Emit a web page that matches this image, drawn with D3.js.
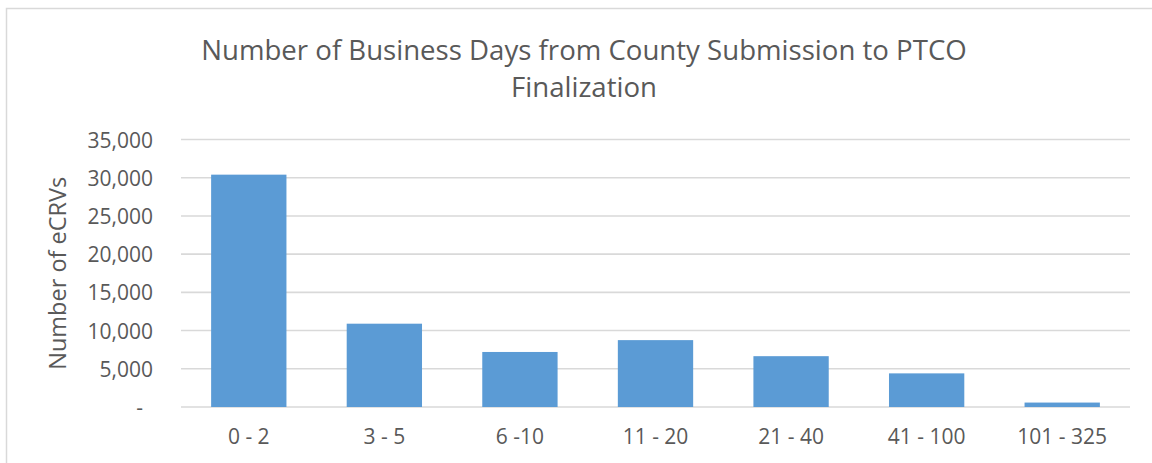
<!DOCTYPE html>
<html>
<head>
<meta charset="utf-8">
<script src="https://cdn.jsdelivr.net/npm/d3@7"></script>
<style>
  body { margin: 0; background: #fff; }
  text { font-family: "Open Sans", sans-serif; fill: #595959; }
</style>
</head>
<body>
<div id="vis"></div>
<script>
// chart data
var categories = ["0 - 2", "3 - 5", "6 -10", "11 - 20", "21 - 40", "41 - 100", "101 - 325"];
var counts = [30400, 10900, 7200, 8750, 6650, 4400, 580];
var yTicks = [0, 5000, 10000, 15000, 20000, 25000, 30000, 35000];
var titleLines = ["Number of Business Days from County Submission to PTCO", "Finalization"];
var yTitle = "Number of eCRVs";

var W = 1152, H = 463;
var margin = {top: 139.5, right: 22, bottom: 56, left: 181},
	width = W - margin.left - margin.right,
	height = H - margin.top - margin.bottom;

var x = d3.scaleBand()
			.domain(categories)
			.range([0, width])
			.paddingInner(0.8 / 1.8)
			.paddingOuter(0.4 / 1.8);
var y = d3.scaleLinear()
			.domain([0, 35000])
			.range([height, 0]);

var svg = d3.select("#vis").append("svg")
	.attr("width", W)
	.attr("height", H);

// chart frame
svg.append("rect")
	.attr("x", 6.5).attr("y", 8.5)
	.attr("width", W).attr("height", H)
	.attr("fill", "none")
	.attr("stroke", "#d9d9d9")
	.attr("stroke-width", 1.5);

var g = svg.append("g")
	.attr("transform", "translate(" + margin.left + "," + margin.top + ")");

// gridlines
g.selectAll(".grid")
	.data(yTicks)
	.enter().append("line")
		.attr("x1", 0).attr("x2", width)
		.attr("y1", function(d){return y(d);})
		.attr("y2", function(d){return y(d);})
		.attr("stroke", "#d9d9d9")
		.attr("stroke-width", 1.6);

// bars
g.selectAll(".bar")
	.data(counts)
	.enter().append("rect")
		.attr("class", "bar")
		.attr("fill", "#5b9bd5")
		.attr("x", function(d, i){return x(categories[i]);})
		.attr("width", x.bandwidth())
		.attr("y", function(d){return y(d);})
		.attr("height", function(d){return height - y(d);});

// y axis
var fmt = d3.format(",");
var yAxis = g.append("g")
	.call(d3.axisLeft(y).tickValues(yTicks).tickSize(0).tickPadding(28)
		.tickFormat(function(d){return d === 0 ? "-" : fmt(d);}));
yAxis.select(".domain").remove();
yAxis.selectAll("text")
	.attr("font-size", 21)
	.attr("font-family", "Open Sans")
	.attr("fill", "#595959")
	.attr("dy", "0.36em")
	.attr("dx", function(d){return d === 0 ? -10 : 0;});

// x axis
var xAxis = g.append("g")
	.attr("transform", "translate(0," + height + ")")
	.call(d3.axisBottom(x).tickSize(0).tickPadding(22));
xAxis.select(".domain").remove();
xAxis.selectAll("text")
	.attr("font-size", 21)
	.attr("font-family", "Open Sans")
	.attr("fill", "#595959");

// y title
svg.append("text")
	.attr("transform", "translate(66," + (margin.top + height / 2) + ") rotate(-90)")
	.attr("text-anchor", "middle")
	.attr("font-size", 23.5)
	.text(yTitle);

// title
var title = svg.append("text")
	.attr("text-anchor", "middle")
	.attr("font-size", 27.6);
title.selectAll("tspan")
	.data(titleLines)
	.enter().append("tspan")
		.attr("x", 584)
		.attr("y", function(d, i){return 60 + i * 37;})
		.text(function(d){return d;});
</script>
</body>
</html>
